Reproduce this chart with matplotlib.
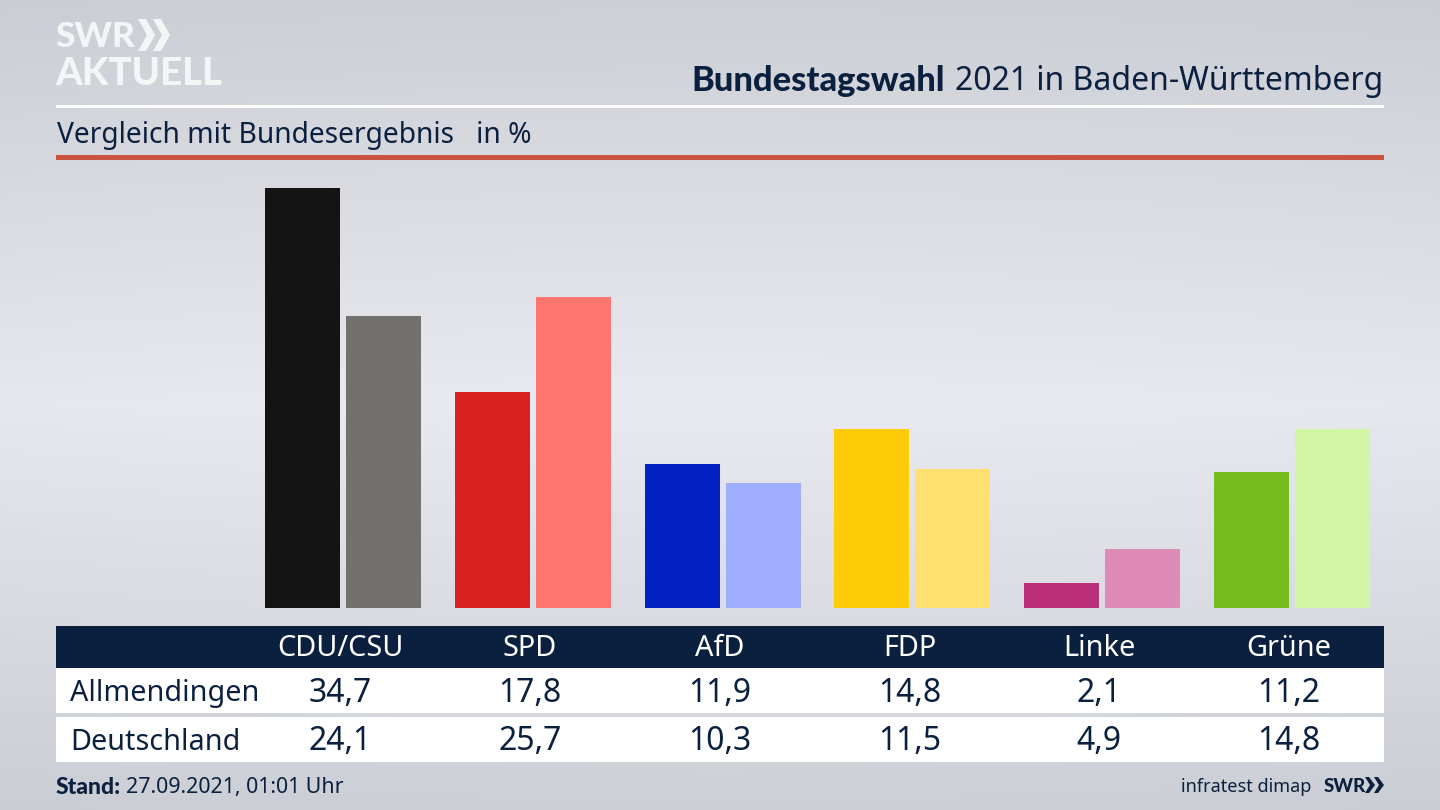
import numpy as np
import matplotlib
matplotlib.use('Agg')
import matplotlib.pyplot as plt
from matplotlib.patches import Rectangle, Polygon

parties = ['CDU/CSU', 'SPD', 'AfD', 'FDP', 'Linke', 'Grüne']
allmendingen = [34.7, 17.8, 11.9, 14.8, 2.1, 11.2]
deutschland = [24.1, 25.7, 10.3, 11.5, 4.9, 14.8]
allmendingen_labels = ['34,7', '17,8', '11,9', '14,8', '2,1', '11,2']
deutschland_labels = ['24,1', '25,7', '10,3', '11,5', '4,9', '14,8']
colors_a = ['#141414', '#d7201f', '#0322c4', '#ffcc0a', '#bb2e7a', '#76bc1c']
colors_d = ['#72716e', '#ff7570', '#9eadfe', '#fee070', '#e08ab8', '#d2f5a8']

NAVY = '#0b203f'
LOGO = '#f4f5f7'
BOLD = ['Lato', 'DejaVu Sans']
plt.rcParams['font.family'] = ['Noto Sans', 'DejaVu Sans']

W, H = 1440, 810
fig = plt.figure(figsize=(14.4, 8.1), dpi=100)

# hintergrund
bg = fig.add_axes([0, 0, 1, 1], zorder=0)
yy, xx = np.mgrid[0:1:162j, 0:1:288j]
shade = 1 - np.abs(yy - 0.5) * 1.6 - np.abs(xx - 0.5) ** 2 * 0.25
bg.imshow(shade, cmap=matplotlib.colors.LinearSegmentedColormap.from_list('bg', ['#c6c9d0', '#e9eaef']),
          vmin=0, vmax=1, aspect='auto', extent=(0, W, H, 0), interpolation='bilinear')
bg.set_xlim(0, W)
bg.set_ylim(H, 0)
bg.axis('off')

# balken
spacing = 189.8
bar_center0 = 343
label_center0 = 340
ax = fig.add_axes([56 / W, 1 - 608 / H, (1384 - 56) / W, (608 - 187.5) / H], zorder=1)
ax.set_xlim((56 - bar_center0) / spacing, (1384 - bar_center0) / spacing)
ax.set_ylim(0, 34.7)
ax.patch.set_alpha(0)
ax.axis('off')
pos = np.arange(len(parties))
ax.bar(pos - 40.5 / spacing, allmendingen, width=75 / spacing, color=colors_a)
ax.bar(pos + 40.5 / spacing, deutschland, width=75 / spacing, color=colors_d)

# kopf
bg.text(945, 81, 'Bundestagswahl', ha='right', va='center', fontsize=24.8, fontweight='black',
        family=BOLD, color=NAVY)
bg.text(1383, 81, '2021 in Baden-Württemberg', ha='right', va='center', fontsize=23, color=NAVY)
bg.add_patch(Rectangle((56, 104.5), 1328, 3, color='white', lw=0))
bg.text(57, 135, 'Vergleich mit Bundesergebnis   in %', ha='left', va='center', fontsize=20.3, color=NAVY)
bg.add_patch(Rectangle((56, 155), 1328, 5, color='#c9533f', lw=0))

# logo
bg.text(55, 37, 'SWR', ha='left', va='center', fontsize=25.5, fontweight='black', family=BOLD, color=LOGO)
bg.text(55, 74, 'AKTUELL', ha='left', va='center', fontsize=27.5, fontweight='black', family=BOLD, color=LOGO)
for x0 in [138, 153]:
    bg.add_patch(Polygon([(x0, 19), (x0 + 8, 19), (x0 + 17, 35), (x0 + 8, 51), (x0, 51), (x0 + 9, 35)],
                         color=LOGO, lw=0))

# tabelle
bg.add_patch(Rectangle((56, 626), 1328, 42, color=NAVY, lw=0))
bg.add_patch(Rectangle((56, 668), 1328, 45, color='white', lw=0))
bg.add_patch(Rectangle((56, 717), 1328, 45, color='white', lw=0))
bg.text(70, 693, 'Allmendingen', ha='left', va='center', fontsize=20.7, color=NAVY)
bg.text(70, 742, 'Deutschland', ha='left', va='center', fontsize=20.7, color=NAVY)
for i, name in enumerate(parties):
    cx = label_center0 + spacing * i
    bg.text(cx, 649, name, ha='center', va='center', fontsize=20.8, color='white')
    bg.text(cx, 693, allmendingen_labels[i], ha='center', va='center', fontsize=23, color=NAVY)
    bg.text(cx, 742, deutschland_labels[i], ha='center', va='center', fontsize=23, color=NAVY)

# fusszeile
bg.text(56, 787, 'Stand:', ha='left', va='center', fontsize=16.5, fontweight='black', family=BOLD, color=NAVY)
bg.text(126, 787, '27.09.2021, 01:01 Uhr', ha='left', va='center', fontsize=15.4, color=NAVY)
bg.text(1311, 787, 'infratest dimap', ha='right', va='center', fontsize=13, color=NAVY)
bg.text(1324, 786, 'SWR', ha='left', va='center', fontsize=13.5, fontweight='black', family=BOLD, color=NAVY)
for x0 in [1365, 1374]:
    bg.add_patch(Polygon([(x0, 777), (x0 + 4, 777), (x0 + 10, 785), (x0 + 4, 793), (x0, 793), (x0 + 5, 785)],
                         color=NAVY, lw=0))

fig.savefig('out.png', dpi=100)
